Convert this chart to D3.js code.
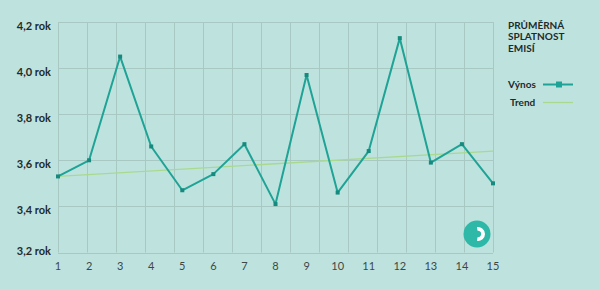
<!DOCTYPE html>
<html>
<head>
<meta charset="utf-8">
<script src="https://cdn.jsdelivr.net/npm/d3@7"></script>
<style>
  body { margin: 0; background: #bee3de; }
  svg { display: block; font-family: Lato, "Open Sans", sans-serif; }
  .ylab { font-size: 11px; font-weight: 700; fill: #1f2a2a; }
  .xlab { font-size: 11px; fill: #3f4747; }
  .leg { font-size: 10px; font-weight: 700; fill: #1f2a2a; }
</style>
</head>
<body>
<div id="container"></div>
<script>
// data
var periods = [1, 2, 3, 4, 5, 6, 7, 8, 9, 10, 11, 12, 13, 14, 15];
var vynos = [3.53, 3.60, 4.05, 3.66, 3.47, 3.54, 3.67, 3.41, 3.97, 3.46, 3.64, 4.13, 3.59, 3.67, 3.50];
var trendEnds = [3.53, 3.64];
var yTicks = [3.2, 3.4, 3.6, 3.8, 4.0, 4.2];
var titleLines = ["PRŮMĚRNÁ", "SPLATNOST", "EMISÍ"];
var legendNames = ["Výnos", "Trend"];

var WIDTH = 600, HEIGHT = 290;
var LEFT = 58, RIGHT = 493, TOP = 22, BOTTOM = 252.5;
var LINE_COLOR = "#1fa396";
var TREND_COLOR = "#a9d98f";
var GRID_COLOR = "#a8c8c3";

var fmt = function( v )
{
    return v.toFixed(1).replace(".", ",") + " rok";
}

var svg = d3.select( "#container" ).append( "svg" )
    .attr( "width", WIDTH )
    .attr( "height", HEIGHT );

var x = d3.scaleLinear().domain([1, 15]).range([LEFT, RIGHT]);
var y = d3.scaleLinear().domain([3.2, 4.2]).range([BOTTOM, TOP]);
// the vertical grid has its own 15 columns, not aligned with the points
var gx = d3.scaleLinear().domain([0, 15]).range([LEFT, RIGHT]);

var grid = svg.append( "g" ).attr( "stroke", GRID_COLOR ).attr( "stroke-width", 1 );

grid.selectAll( "line.h" )
    .data( yTicks )
    .enter()
    .append( "line" )
    .attr( "x1", LEFT ).attr( "x2", RIGHT )
    .attr( "y1", function(d){ return Math.round(y(d)) + 0.5; } )
    .attr( "y2", function(d){ return Math.round(y(d)) + 0.5; } );

grid.selectAll( "line.v" )
    .data( d3.range(16) )
    .enter()
    .append( "line" )
    .attr( "y1", TOP ).attr( "y2", BOTTOM )
    .attr( "x1", function(d){ return Math.round(gx(d)) + 0.5; } )
    .attr( "x2", function(d){ return Math.round(gx(d)) + 0.5; } );

// y labels
svg.append( "g" ).selectAll( "text" )
    .data( yTicks )
    .enter()
    .append( "text" )
    .classed( "ylab", true )
    .attr( "text-anchor", "end" )
    .attr( "x", 51 )
    .attr( "y", function(d){ return Math.min(y(d) + 4, BOTTOM - 1); } )
    .attr( "dy", "0.35em" )
    .text( fmt );

// x labels
svg.append( "g" ).selectAll( "text" )
    .data( periods )
    .enter()
    .append( "text" )
    .classed( "xlab", true )
    .attr( "text-anchor", "middle" )
    .attr( "x", function(d){ return x(d); } )
    .attr( "y", 269.5 )
    .text( function(d){ return d; } );

// trend
svg.append( "line" )
    .attr( "x1", x(1) ).attr( "x2", x(15) )
    .attr( "y1", y(trendEnds[0]) ).attr( "y2", y(trendEnds[1]) )
    .attr( "stroke", TREND_COLOR )
    .attr( "stroke-width", 1.3 );

// main series
var line = d3.line()
    .x(function(d, i){ return x(periods[i]); })
    .y(function(d){ return y(d); });

svg.append( "path" )
    .datum( vynos )
    .attr( "d", line )
    .attr( "fill", "none" )
    .attr( "stroke", LINE_COLOR )
    .attr( "stroke-width", 2 )
    .attr( "stroke-linejoin", "round" );

svg.append( "g" ).selectAll( "rect" )
    .data( vynos )
    .enter()
    .append( "rect" )
    .attr( "x", function(d, i){ return x(periods[i]) - 2; } )
    .attr( "y", function(d){ return y(d) - 2; } )
    .attr( "width", 4 ).attr( "height", 4 )
    .attr( "fill", "#168a7e" );

// legend
var leg = svg.append( "g" );

leg.selectAll( "text.title" )
    .data( titleLines )
    .enter()
    .append( "text" )
    .classed( "leg", true )
    .attr( "x", 508 )
    .attr( "y", function(_, i){ return 28.5 + i * 11.7; } )
    .text( function(d){ return d; } );

leg.selectAll( "text.name" )
    .data( legendNames )
    .enter()
    .append( "text" )
    .classed( "leg", true )
    .attr( "x", function(_, i){ return i == 0 ? 508 : 510; } )
    .attr( "y", function(_, i){ return 87.5 + i * 18; } )
    .text( function(d){ return d; } );

leg.append( "line" )
    .attr( "x1", 543 ).attr( "x2", 573 ).attr( "y1", 84.5 ).attr( "y2", 84.5 )
    .attr( "stroke", LINE_COLOR ).attr( "stroke-width", 2 );
leg.append( "rect" )
    .attr( "x", 556 ).attr( "y", 81.5 ).attr( "width", 6 ).attr( "height", 6 )
    .attr( "fill", LINE_COLOR );
leg.append( "line" )
    .attr( "x1", 543 ).attr( "x2", 573 ).attr( "y1", 102.5 ).attr( "y2", 102.5 )
    .attr( "stroke", TREND_COLOR ).attr( "stroke-width", 1.3 );

// logo
var logo = svg.append( "g" ).attr( "transform", "translate(477,234)" );
logo.append( "circle" ).attr( "r", 13.5 ).attr( "fill", "#2db8a8" );
logo.append( "path" )
    .attr( "d", d3.arc()
	   .innerRadius(3.2)
	   .outerRadius(7)
	   .startAngle(-0.15)
	   .endAngle(Math.PI + 0.15)() )
    .attr( "transform", "translate(1,0)" )
    .attr( "fill", "#ffffff" );
</script>
</body>
</html>
